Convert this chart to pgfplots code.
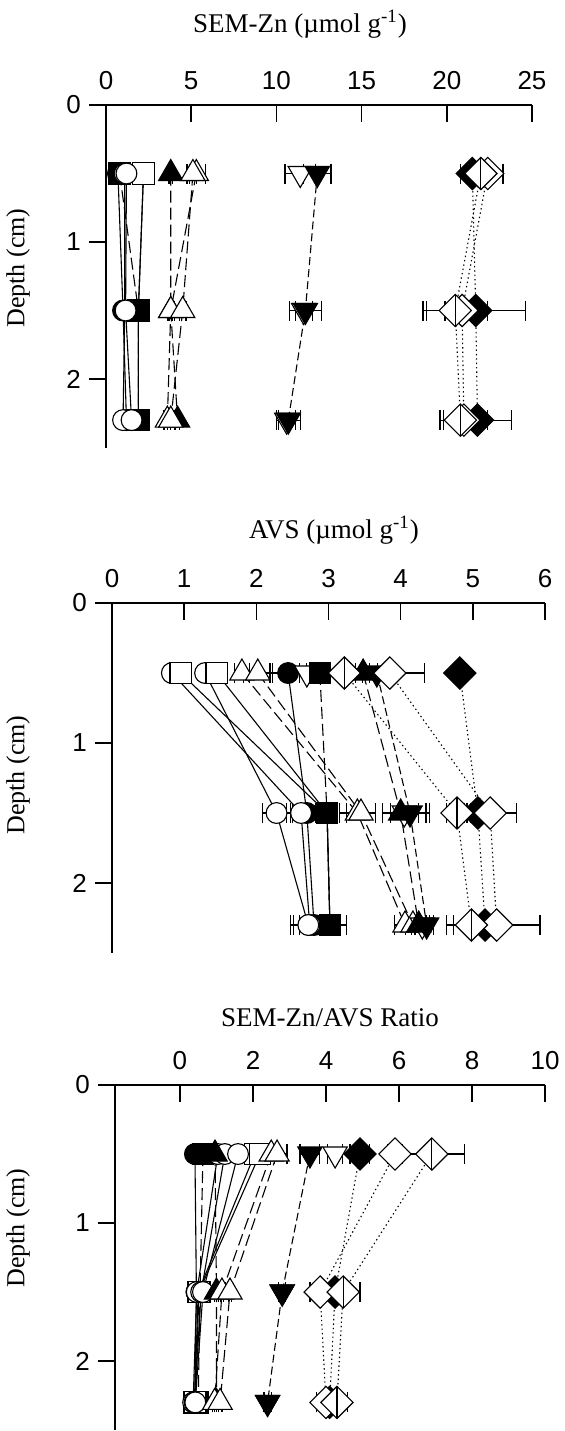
\documentclass[border=0pt]{standalone}
\usepackage{fontspec}
\setmainfont{Liberation Serif}
\setsansfont{Liberation Sans}
\usepackage{pgfplots}
\pgfplotsset{compat=1.18}
\pgfplotsset{
  panel/.style={
    scale only axis, clip=false,
    axis x line=top, axis y line=left,
    axis line style={-, line width=0.8pt},
    y dir=reverse, ymin=0, ymax=2.5, ytick={0,1,2},
    tick align=inside, major tick length=8.5pt,
    tick style={line width=0.8pt, black},
    ytick style={xshift=-8.5pt},
    ticklabel style={font=\sffamily\fontsize{13}{15}\selectfont},
    /pgf/number format/assume math mode=true,
    xticklabel shift=4pt, yticklabel shift=9pt,
  },
  base/.style={black, line width=0.55pt,
    error bars/x dir=both, error bars/x explicit,
    error bars/error mark=|,
    error bars/error bar style={solid, line width=0.6pt},
    error bars/error mark options={solid, mark size=5pt, line width=0.6pt}},
  SOL/.style={solid},
  LD/.style={dash pattern=on 6pt off 2.5pt},
  MD/.style={dash pattern=on 4pt off 2pt},
  DOT/.style={dash pattern=on 0.7pt off 1.5pt},
  fc/.style={base, SOL, mark=*, mark size=5.2pt, mark options={solid, fill=black}},
  oc/.style={base, SOL, mark=*, mark size=5.2pt, mark options={solid, fill=white}},
  os/.style={base, SOL, mark=square*, mark size=5.3pt, mark options={solid, fill=white}},
  fs/.style={base, LD, mark=square*, mark size=5.3pt, mark options={solid, fill=black}},
  ft/.style={base, LD, mark=triangle*, mark size=7pt, mark options={solid, fill=black}},
  ot/.style={base, LD, mark=triangle*, mark size=7pt, mark options={solid, fill=white}},
  fd/.style={base, MD, mark=triangle*, mark size=7pt, mark options={solid, fill=black, rotate=180}},
  od/.style={base, only marks, mark=triangle*, mark size=7pt, mark options={solid, fill=white, rotate=180}},
  fdi/.style={base, DOT, mark=square*, mark size=5.7pt, mark options={solid, fill=black, rotate=45}},
  odi/.style={base, DOT, mark=square*, mark size=5.7pt, mark options={solid, fill=white, rotate=45}},
  vbar/.style={black, only marks, mark=|, mark size=8pt, mark options={solid, line width=0.6pt}},
}
\newcommand\SER[2]{\addplot[#1] table[x=x,y=y,x error=e,row sep=\\]{x y e\\ #2};}
\newcommand\VDI[1]{\SER{odi}{#1}\addplot[vbar] table[x=x,y=y,row sep=\\]{x y e\\ #1};}
\begin{document}
\begin{tikzpicture}
\useasboundingbox (0,0) rectangle (282pt,-715.5pt);
% ---------------- Panel 1: SEM-Zn
\begin{axis}[panel, at={(53pt,-52.5pt)}, anchor=north west,
  width=213pt, height=171.25pt, xmin=0, xmax=25, xtick={0,5,...,25}]
\SER{os}{2.2 0.5 0.1\\ 1.9 1.5 0.1\\ 1.9 2.3 0.1\\}
\SER{os}{2.2 0.5 0.1\\ 1.9 1.5 0.1\\ 1.9 2.3 0.1\\}
\SER{fs}{0.8 0.5 0.1\\ 1.9 1.5 0.1\\ 1.9 2.3 0.1\\}
\SER{fc}{0.7 0.5 0.1\\ 1.0 1.5 0.1\\ 1.2 2.3 0.1\\}
\SER{oc}{1.1 0.5 0.1\\ 1.1 1.5 0.1\\ 1.0 2.3 0.1\\}
\SER{oc}{1.2 0.5 0.1\\ 1.15 1.5 0.1\\ 1.5 2.3 0.1\\}
\SER{ft}{3.8 0.5 0.1\\ 3.8 1.5 0.1\\ 4.2 2.3 0.1\\}
\SER{ot}{5.3 0.5 0.55\\ 3.8 1.5 0.2\\ 3.6 2.3 0.2\\}
\SER{ot}{5.1 0.5 0.2\\ 4.5 1.5 0.2\\ 3.8 2.3 0.2\\}
\SER{od}{11.4 0.5 0.9\\ 11.6 1.5 0.5\\ 10.6 2.3 0.5\\}
\SER{fd}{12.4 0.5 0.8\\ 11.7 1.5 0.95\\ 10.7 2.3 0.7\\}
\SER{fdi}{21.5 0.5 0.7\\ 21.7 1.5 2.9\\ 21.8 2.3 2.0\\}
\SER{odi}{22.4 0.5 0.9\\ 20.9 1.5 1.0\\ 21.0 2.3 1.4\\}
\VDI{22.0 0.5 0.5\\ 20.5 1.5 1.9\\ 20.8 2.3 1.2\\}
\end{axis}
% ---------------- Panel 2: AVS
\begin{axis}[panel, at={(56pt,-301.5pt)}, anchor=north west,
  width=216.5pt, height=175pt, xmin=0, xmax=6, xtick={0,1,...,6}]
\SER{fc}{2.44 0.5 0.25\\ 2.70 1.5 0.2\\ 2.80 2.3 0.2\\}
\SER{oc}{0.83 0.5 0.05\\ 2.62 1.5 0.2\\ 2.74 2.3 0.27\\}
\SER{oc}{1.29 0.5 0.05\\ 2.28 1.5 0.19\\ 2.72 2.3 0.2\\}
\SER{os}{0.95 0.5 0.05\\ 2.98 1.5 0.1\\ 3.02 2.3 0.1\\}
\SER{os}{1.45 0.5 0.05\\ 2.98 1.5 0.1\\ 3.02 2.3 0.1\\}
\SER{ot}{1.80 0.5 0.1\\ 3.40 1.5 0.25\\ 4.06 2.3 0.15\\}
\SER{ot}{2.02 0.5 0.2\\ 3.45 1.5 0.2\\ 4.17 2.3 0.1\\}
\SER{od}{2.70 0.5 0.1\\ 4.05 1.5 0.3\\ 4.30 2.3 0.1\\}
\SER{fs}{2.88 0.5 0.1\\ 2.98 1.5 0.1\\ 3.02 2.3 0.23\\}
\SER{ft}{3.48 0.5 0.2\\ 4.00 1.5 0.25\\ 4.25 2.3 0.1\\}
\SER{fd}{3.67 0.5 0.1\\ 4.13 1.5 0.27\\ 4.36 2.3 0.1\\}
\SER{fdi}{4.82 0.5 0.05\\ 5.07 1.5 0.1\\ 5.17 2.3 0.1\\}
\SER{odi}{3.85 0.5 0.48\\ 5.24 1.5 0.36\\ 5.33 2.3 0.6\\}
\VDI{3.22 0.5 0.25\\ 4.78 1.5 0.14\\ 4.98 2.3 0.34\\}
\end{axis}
% ---------------- Panel 3: ratio
\begin{axis}[panel, at={(57.5pt,-542.5pt)}, anchor=north west,
  width=215pt, height=172.5pt, xmin=-1.78, xmax=10, xtick={0,2,...,10}]
\SER{fs}{0.63 0.5 0.05\\ 0.55 1.5 0.05\\ 0.50 2.3 0.05\\}
\SER{fc}{0.41 0.5 0.05\\ 0.45 1.5 0.05\\ 0.40 2.3 0.05\\}
\SER{os}{2.05 0.5 0.1\\ 0.50 1.5 0.05\\ 0.40 2.3 0.05\\}
\SER{os}{2.19 0.5 0.1\\ 0.52 1.5 0.05\\ 0.42 2.3 0.05\\}
\SER{oc}{1.04 0.5 0.1\\ 0.46 1.5 0.05\\ 0.36 2.3 0.05\\}
\SER{oc}{1.23 0.5 0.1\\ 0.58 1.5 0.05\\ 0.40 2.3 0.05\\}
\SER{oc}{1.59 0.5 0.1\\ 0.63 1.5 0.05\\ 0.42 2.3 0.05\\}
\SER{ft}{0.96 0.5 0.05\\ 1.00 1.5 0.05\\ 1.00 2.3 0.05\\}
\SER{ot}{2.50 0.5 0.1\\ 1.15 1.5 0.05\\ 0.95 2.3 0.05\\}
\SER{ot}{2.66 0.5 0.27\\ 1.37 1.5 0.05\\ 1.10 2.3 0.05\\}
\SER{od}{4.25 0.5 0.2\\ 2.80 1.5 0.1\\ 2.40 2.3 0.1\\}
\SER{fd}{3.56 0.5 0.27\\ 2.80 1.5 0.1\\ 2.40 2.3 0.1\\}
\SER{fdi}{4.93 0.5 0.27\\ 4.25 1.5 0.1\\ 4.10 2.3 0.1\\}
\SER{odi}{5.89 0.5 0.2\\ 3.84 1.5 0.28\\ 4.00 2.3 0.25\\}
\VDI{6.90 0.5 0.9\\ 4.47 1.5 0.46\\ 4.30 2.3 0.3\\}
\end{axis}
% ---------------- titles and labels
\node[font=\fontsize{13.5}{16}\selectfont] at (150pt,-12pt) {SEM-Zn (µmol g\textsuperscript{-1})};
\node[font=\fontsize{13.5}{16}\selectfont] at (167pt,-265pt) {AVS (µmol g\textsuperscript{-1})};
\node[font=\fontsize{13.5}{16}\selectfont] at (165pt,-509pt) {SEM-Zn/AVS Ratio};
\node[font=\fontsize{13}{15}\selectfont, rotate=90] at (9pt,-134pt) {Depth (cm)};
\node[font=\fontsize{13}{15}\selectfont, rotate=90] at (9pt,-387.5pt) {Depth (cm)};
\node[font=\fontsize{13}{15}\selectfont, rotate=90] at (9pt,-614pt) {Depth (cm)};
\end{tikzpicture}
\end{document}
